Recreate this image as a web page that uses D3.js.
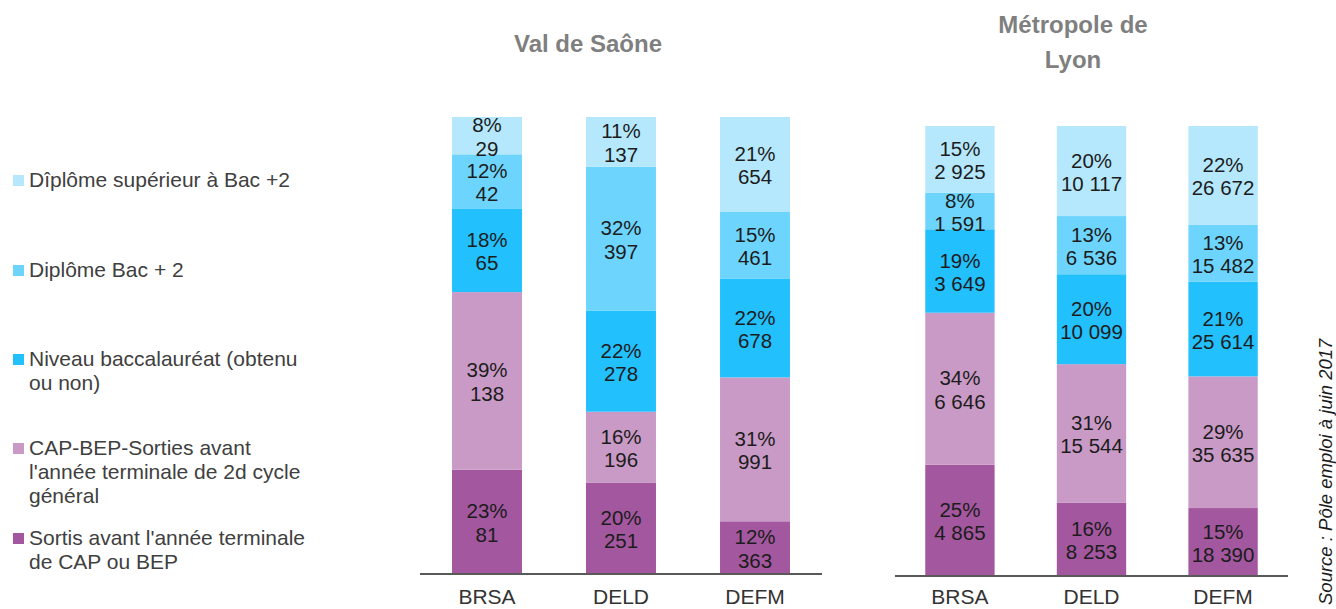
<!DOCTYPE html>
<html lang="fr">
<head>
<meta charset="utf-8">
<script src="https://cdn.jsdelivr.net/npm/d3@7"></script>
<style>
  html, body { margin: 0; padding: 0; background: #ffffff; }
  svg { display: block; font-family: "Liberation Sans", Arial, sans-serif; }
</style>
</head>
<body>
<svg id="chart" width="1336" height="609"></svg>
<script>
// Public categories on the x axis
const categories = ["BRSA", "DELD", "DEFM"];

// Education levels, bottom of the stack first
const levelKeys = ["sortis", "cap", "bac", "bac2", "sup"];
const legendLines = [
  ["Dîplôme supérieur à Bac +2"],
  ["Diplôme Bac + 2"],
  ["Niveau baccalauréat (obtenu", "ou non)"],
  ["CAP-BEP-Sorties avant", "l'année terminale de 2d cycle", "général"],
  ["Sortis avant l'année terminale", "de CAP ou BEP"]
];
const legendKeys = ["sup", "bac2", "bac", "cap", "sortis"];

// Val de Saône: job seekers by level (BRSA, DELD, DEFM)
const valSortis = [81, 251, 363];
const valCap    = [138, 196, 991];
const valBac    = [65, 278, 678];
const valBac2   = [42, 397, 461];
const valSup    = [29, 137, 654];

// Métropole de Lyon
const lyonSortis = [4865, 8253, 18390];
const lyonCap    = [6646, 15544, 35635];
const lyonBac    = [3649, 10099, 25614];
const lyonBac2   = [1591, 6536, 15482];
const lyonSup    = [2925, 10117, 26672];

const colors = {
  sup: "#b5e8fd",
  bac2: "#6dd5fd",
  bac: "#22c0fd",
  cap: "#c99ac6",
  sortis: "#a3579e"
};

const fmtNum = d3.formatLocale({ decimal: ",", thousands: "\u00a0", grouping: [3], currency: ["", " €"] }).format(",d");

function rows(sortis, cap, bac, bac2, sup) {
  return categories.map((c, i) => ({
    cat: c, sortis: sortis[i], cap: cap[i], bac: bac[i], bac2: bac2[i], sup: sup[i]
  }));
}

const panels = [
  { title: ["Val de Saône"], titleX: 588, titleY: [52],
    data: rows(valSortis, valCap, valBac, valBac2, valSup),
    x0: 420, x1: 822, top: 117, bottom: 574, inner: 0.478, outer: 0.239 },
  { title: ["Métropole de", "Lyon"], titleX: 1073, titleY: [33, 68],
    data: rows(lyonSortis, lyonCap, lyonBac, lyonBac2, lyonSup),
    x0: 895, x1: 1288, top: 126, bottom: 576, inner: 0.473, outer: 0.23 }
];

// Top edge of the category labels, shared by both panels
const labelTop = 589;

const svg = d3.select("#chart");

panels.forEach(p => {
  const g = svg.append("g");

  const x = d3.scaleBand().domain(categories).range([p.x0, p.x1])
    .paddingInner(p.inner).paddingOuter(p.outer);
  const y = d3.scaleLinear().domain([0, 1]).range([p.bottom, p.top]);

  const stacked = d3.stack().keys(levelKeys).offset(d3.stackOffsetExpand)(p.data);
  const totals = p.data.map(d => d3.sum(levelKeys, k => d[k]));

  const layers = g.selectAll("g.layer").data(stacked).join("g")
    .attr("class", "layer")
    .attr("fill", d => colors[d.key]);

  layers.selectAll("rect").data(d => d).join("rect")
    .attr("x", d => x(d.data.cat))
    .attr("width", x.bandwidth())
    .attr("y", d => y(d[1]))
    .attr("height", d => y(d[0]) - y(d[1]));

  // Two-line labels: share then count
  stacked.forEach(layer => {
    layer.forEach((d, i) => {
      const cx = x(d.data.cat) + x.bandwidth() / 2;
      const mid = (y(d[0]) + y(d[1])) / 2;
      const val = d.data[layer.key];
      const pct = Math.round(100 * val / totals[i]) + "%";
      const t = g.append("text")
        .attr("x", cx)
        .attr("y", mid - 3.5)
        .attr("text-anchor", "middle")
        .attr("font-size", 20.5)
        .attr("fill", "#1c1c1c");
      t.append("tspan").attr("x", cx).text(pct);
      t.append("tspan").attr("x", cx).attr("dy", 23.5).text(fmtNum(val));
    });
  });

  // Baseline axis with category labels
  const axis = d3.axisBottom(x).tickSize(0).tickPadding(labelTop - p.bottom);
  const ag = g.append("g").attr("transform", `translate(0,${p.bottom})`).call(axis);
  ag.select(".domain").attr("stroke", "#595959").attr("stroke-width", 2)
    .attr("d", `M${p.x0},0H${p.x1}`);
  ag.selectAll(".tick text")
    .attr("font-size", 21)
    .attr("font-family", "\"Liberation Sans\", Arial, sans-serif")
    .attr("fill", "#333333")
    .attr("dy", "0.71em");

  // Panel title
  p.title.forEach((line, i) => {
    g.append("text")
      .attr("x", p.titleX)
      .attr("y", p.titleY[i])
      .attr("text-anchor", "middle")
      .attr("font-size", 24)
      .attr("font-weight", "bold")
      .attr("fill", "#7f7f7f")
      .text(line);
  });
});

// Legend
const legendBaselines = [187, 277, 366, 455, 545];
const legend = svg.append("g");
legendKeys.forEach((k, i) => {
  const by = legendBaselines[i];
  legend.append("rect")
    .attr("x", 13).attr("y", by - 12)
    .attr("width", 11).attr("height", 11)
    .attr("fill", colors[k]);
  const t = legend.append("text")
    .attr("x", 29).attr("y", by)
    .attr("font-size", 21)
    .attr("fill", "#404040");
  legendLines[i].forEach((line, j) => {
    t.append("tspan").attr("x", 29).attr("dy", j === 0 ? 0 : 24).text(line);
  });
});

// Source note, vertical on the right edge
svg.append("text")
  .attr("transform", "translate(1332,605) rotate(-90)")
  .attr("font-size", 18.5)
  .attr("font-style", "italic")
  .attr("fill", "#1c1c1c")
  .text("Source : Pôle emploi à juin 2017");
</script>
</body>
</html>
